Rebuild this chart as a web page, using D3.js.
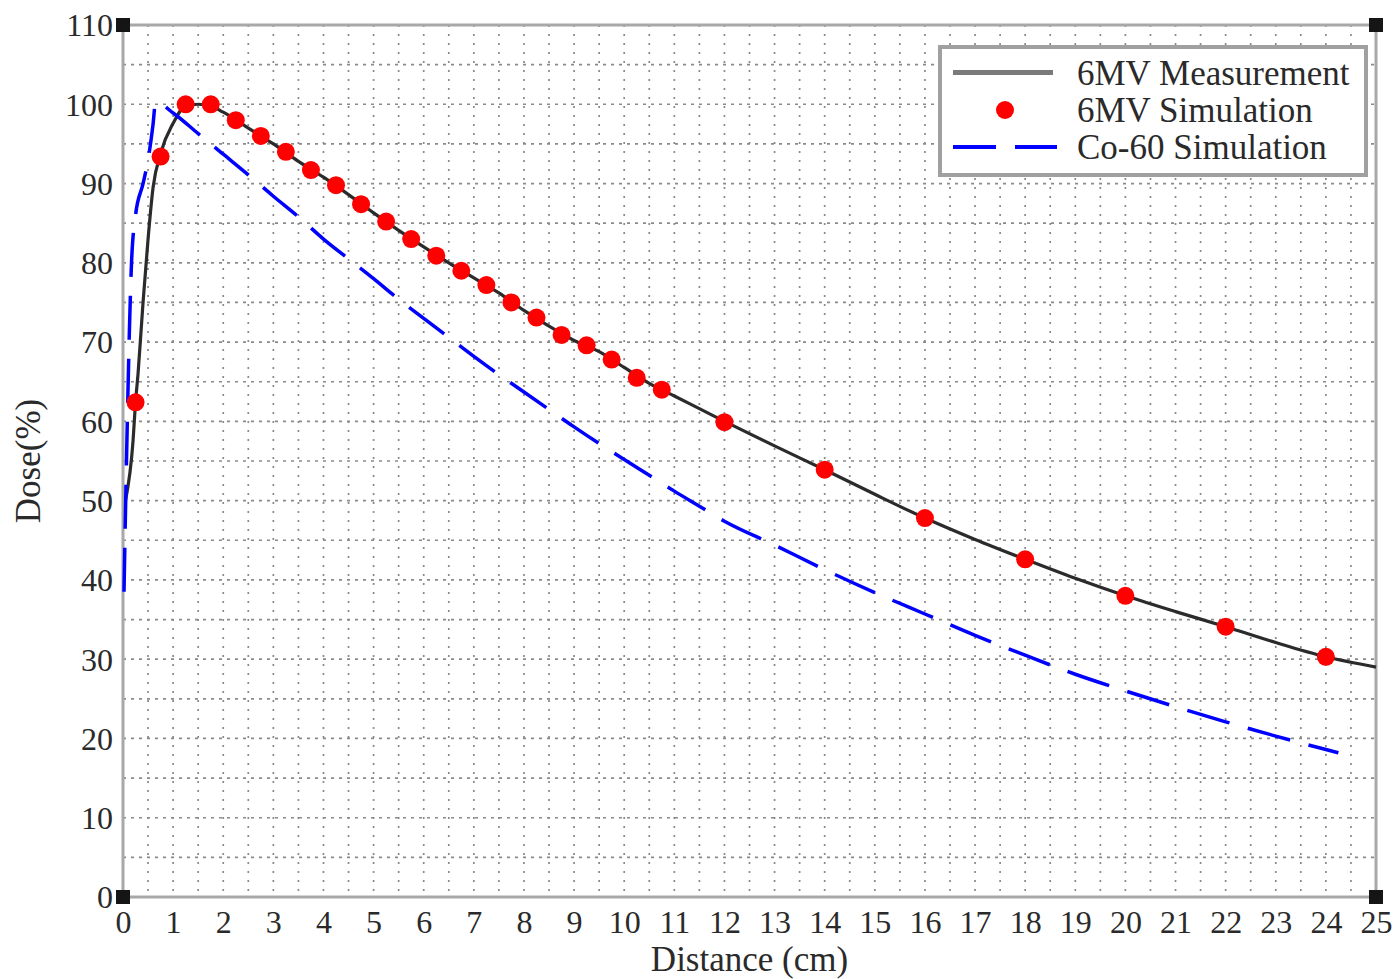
<!DOCTYPE html>
<html>
<head>
<meta charset="utf-8">
<script src="https://cdn.jsdelivr.net/npm/d3@7"></script>
<style>
html,body{margin:0;padding:0;background:#fff;}
svg{display:block;}
text{font-family:"Liberation Serif","Times New Roman",serif;fill:#2a2a2a;}
</style>
</head>
<body>
<svg id="chart" width="1398" height="979"></svg>
<script>
// ---- data ----
const xTicks = d3.range(0, 26, 1);
const yTicks = d3.range(0, 111, 10);

// 6MV measurement (continuous curve)
const measX = [0.05,0.2,0.25,0.3,0.4,0.5,0.6,0.75,1.0,1.25,1.5,1.75,2,2.5,3,3.5,4,4.5,5,5.5,6,6.5,7,7.5,8,8.5,9,9.5,10,10.5,11,12,13,14,15,16,17,18,19,20,21,22,23,24,25];
const measY = [50,57.5,62.4,66,75,83,89.5,93.8,97.6,99.8,100,99.8,99,97,95,92.8,90.8,88.6,86.3,84.1,82,80,78.1,76.2,74,72,70.2,68.8,66.8,64.8,63.2,60,56.9,53.9,50.8,47.8,45.1,42.6,40.2,38.0,36.0,34.1,32.1,30.3,29.0];

// 6MV simulation (points)
const simX = [0.25,0.75,1.25,1.75,2.25,2.75,3.25,3.75,4.25,4.75,5.25,5.75,6.25,6.75,7.25,7.75,8.25,8.75,9.25,9.75,10.25,10.75,12,14,16,18,20,22,24];
const simY = [62.4,93.4,100.0,100.0,98.0,96.0,94.0,91.7,89.8,87.4,85.2,83.0,80.9,79.0,77.2,75.0,73.1,70.9,69.6,67.8,65.5,64.0,59.9,53.9,47.8,42.6,38.0,34.1,30.3];

// Co-60 simulation (dashed curve)
const coX = [0.02,0.06,0.1,0.13,0.17,0.25,0.4,0.5,0.6,0.65,1,1.5,2,2.5,3,3.5,4,4.5,5,5.5,6,6.5,7,7.5,8,8.5,9,9.5,10,10.5,11,11.5,12,13,14,15,16,17,18,19,20,21,22,23,24,24.25];
const coY = [38.5,52,64,72,80,86,90,93,97.5,100.3,98.9,96.3,93.7,91.1,88.4,85.8,83.0,80.5,78.0,75.4,73.0,70.6,68.2,65.9,63.7,61.5,59.3,57.2,55.2,53.2,51.2,49.3,47.4,44.4,41.3,38.4,35.7,33.0,30.5,28.1,26.0,24.0,22.1,20.3,18.6,18.2];

const legendLabels = ["6MV Measurement","6MV Simulation","Co-60 Simulation"];

// ---- layout ----
const svg = d3.select("#chart");
const L = 123, R = 1376, T = 25, B = 897;
const x = d3.scaleLinear().domain([0,25]).range([L,R]);
const y = d3.scaleLinear().domain([0,110]).range([B,T]);

// grid
const g = svg.append("g");
g.selectAll("line.vg").data(d3.range(0.5, 25, 0.5)).join("line")
  .attr("x1", d=>x(d)).attr("x2", d=>x(d)).attr("y1", T).attr("y2", B)
  .attr("stroke", "#8a8a8a").attr("stroke-width", 1.7).attr("stroke-dasharray", "2,7");
g.selectAll("line.hg").data(d3.range(5, 110, 5)).join("line")
  .attr("x1", L).attr("x2", R).attr("y1", d=>y(d)).attr("y2", d=>y(d))
  .attr("stroke", "#8a8a8a").attr("stroke-width", 1.7).attr("stroke-dasharray", "3,5");

// axes box
svg.append("rect").attr("x", L).attr("y", T).attr("width", R-L).attr("height", B-T)
  .attr("fill","none").attr("stroke","#a8a8a8").attr("stroke-width",3);

// axes ticks (labels only)
const xAxis = d3.axisBottom(x).tickValues(xTicks).tickSize(0).tickPadding(0).tickFormat(d3.format("d"));
const xa = svg.append("g").attr("transform", `translate(0,${B})`).call(xAxis);
xa.select(".domain").remove();
xa.selectAll("text").attr("y", 36).attr("dy", null).attr("font-size", 32)
  .style("font-family", '"Liberation Serif",serif').attr("fill", "#333");

const yAxis = d3.axisLeft(y).tickValues(yTicks).tickSize(0).tickPadding(0).tickFormat(d3.format("d"));
const ya = svg.append("g").attr("transform", `translate(${L-10},0)`).call(yAxis);
ya.select(".domain").remove();
ya.selectAll("text").attr("x", 0).attr("dy", "0.34em").attr("font-size", 32)
  .style("font-family", '"Liberation Serif",serif').attr("fill", "#333");

// curves
const measData = measX.map((d,i)=>[d, measY[i]]);
const coData = coX.map((d,i)=>[d, coY[i]]);
const simData = simX.map((d,i)=>[d, simY[i]]);
const line = d3.line().x(d=>x(d[0])).y(d=>y(d[1])).curve(d3.curveMonotoneX);

svg.append("path").datum(measData).attr("d", line)
  .attr("fill","none").attr("stroke","#2b2b2b").attr("stroke-width",3.2).attr("stroke-linejoin","round");
svg.append("path").datum(coData).attr("d", line)
  .attr("fill","none").attr("stroke","#0000ff").attr("stroke-width",3.5).attr("stroke-dasharray","44,19");
svg.selectAll("circle.sim").data(simData).join("circle")
  .attr("cx", d=>x(d[0])).attr("cy", d=>y(d[1])).attr("r", 9).attr("fill", "#ff0000");

// corner squares
const corners = [[0,0],[0,110],[25,0],[25,110]];
svg.selectAll("rect.corner").data(corners).join("rect")
  .attr("x", d=>x(d[0])-7).attr("y", d=>y(d[1])-7).attr("width",14).attr("height",14).attr("fill","#151515");

// legend
const lg = svg.append("g");
lg.append("rect").attr("x", 940).attr("y", 47).attr("width", 426).attr("height", 128)
  .attr("fill","#fff").attr("stroke","#a0a0a0").attr("stroke-width",4);
const rows = [72.5, 110, 147];
lg.append("line").attr("x1",953).attr("x2",1053).attr("y1",rows[0]).attr("y2",rows[0])
  .attr("stroke","#7a7a7a").attr("stroke-width",5);
lg.append("circle").attr("cx",1005).attr("cy",rows[1]).attr("r",9).attr("fill","#ff0000");
lg.append("line").attr("x1",953).attr("x2",1057).attr("y1",rows[2]).attr("y2",rows[2])
  .attr("stroke","#0000ff").attr("stroke-width",4).attr("stroke-dasharray","43,19");
lg.selectAll("text").data(legendLabels).join("text")
  .attr("x", 1077).attr("y", (d,i)=>rows[i]+12).attr("font-size", 35).text(d=>d);

// axis titles
svg.append("text").attr("x", (L+R)/2).attr("y", 971).attr("text-anchor","middle")
  .attr("font-size", 35).text("Distance (cm)");
svg.append("text").attr("transform", `translate(40,${(T+B)/2}) rotate(-90)`)
  .attr("text-anchor","middle").attr("font-size", 35).text("Dose(%)");
</script>
</body>
</html>
